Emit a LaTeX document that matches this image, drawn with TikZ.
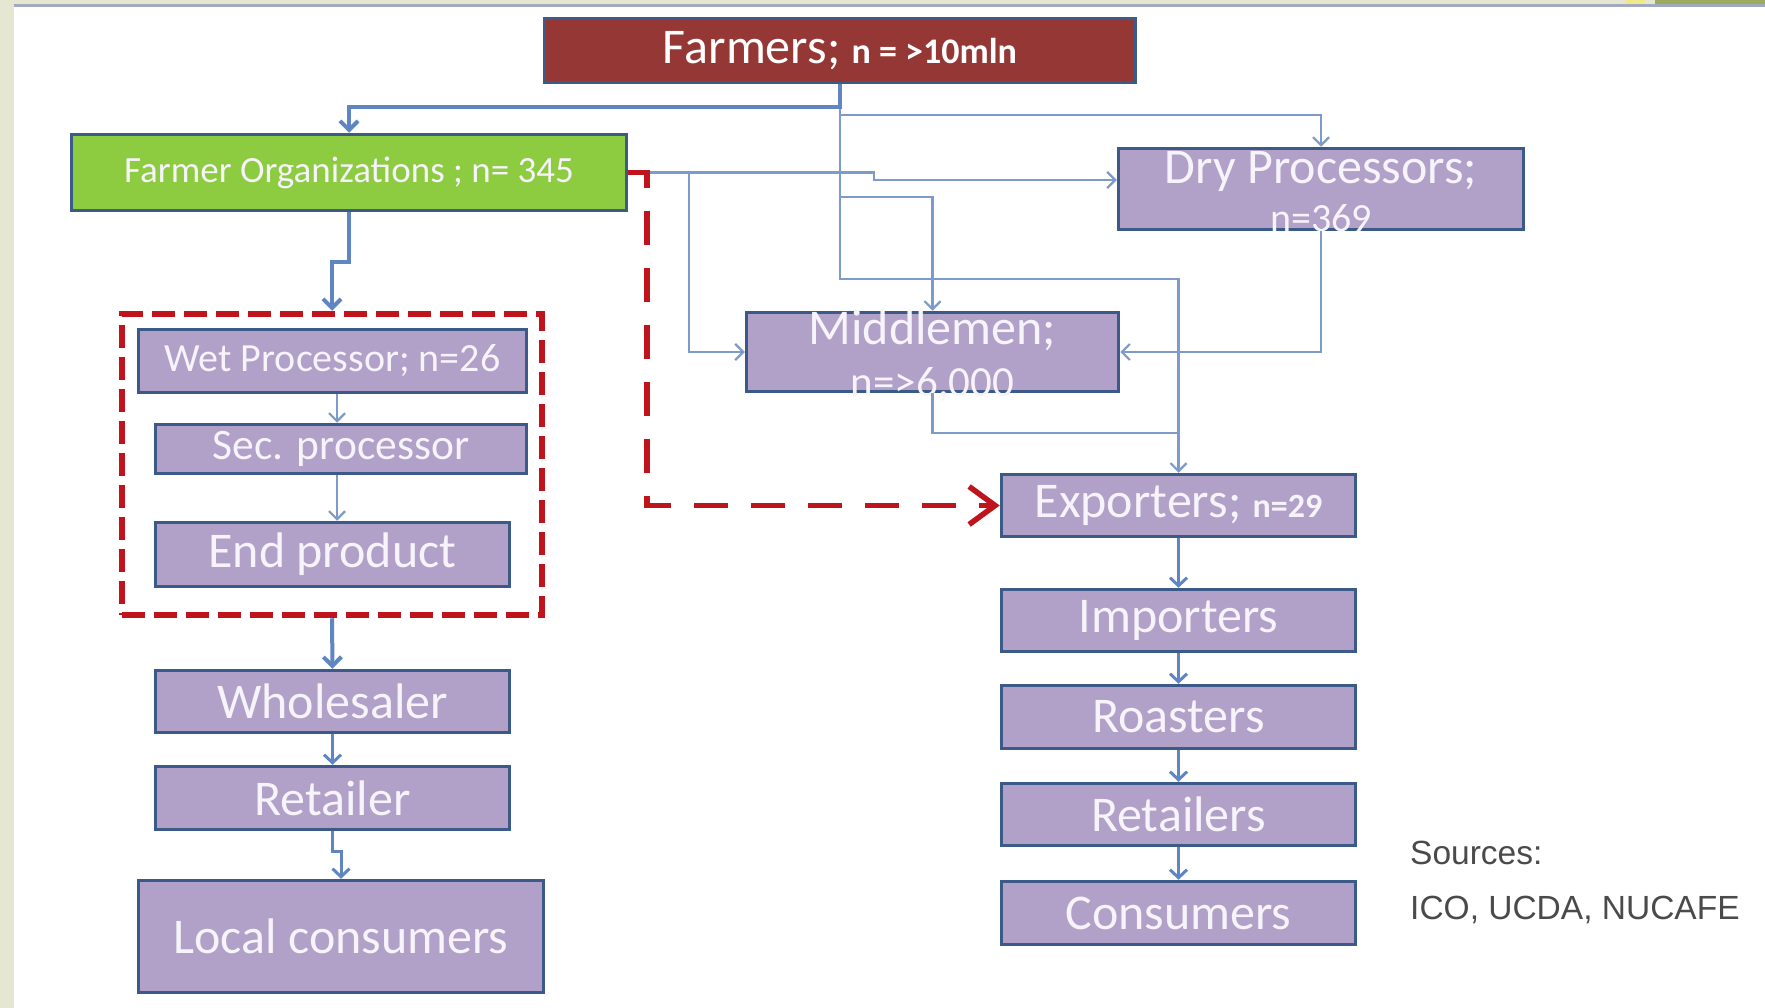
\documentclass[tikz,border=0pt]{standalone}
\usepackage{fontspec}
\setmainfont{Carlito}
\newfontfamily\srcfont{Liberation Sans}
\usetikzlibrary{arrows.meta,calc}
\definecolor{lav}{HTML}{B1A0C7}
\definecolor{bord}{HTML}{3C5A88}
\definecolor{fred}{HTML}{953735}
\definecolor{fgreen}{HTML}{8DCB41}
\definecolor{connc}{HTML}{7C9BCB}
\definecolor{connd}{HTML}{5F86C2}
\definecolor{dred}{HTML}{C0141C}
\definecolor{txtc}{HTML}{F6F3FA}
\definecolor{beige}{HTML}{E6E7D3}
\definecolor{topline}{HTML}{A2A9BE}
\definecolor{yel}{HTML}{F0E88A}
\definecolor{oliv}{HTML}{9CAA5E}
\definecolor{srcgray}{HTML}{4A4A4A}
\begin{document}
\begin{tikzpicture}[x=1pt,y=-1pt,
  box/.style={draw=bord,line width=3.5pt,fill=lav,text=txtc,inner sep=0pt,align=center,font=\fontsize{50}{52}\selectfont},
  txt/.style={text=txtc,inner sep=0pt,align=center},
  conn/.style={draw=connc,line width=2.2pt,-{Straight Barb[length=8pt,width=16pt]}},
  connthick/.style={draw=connd,line width=4pt,-{Straight Barb[length=9pt,width=18pt]}},
  connmid/.style={draw=connd,line width=3pt,-{Straight Barb[length=8pt,width=17pt]}},
  plainconn/.style={draw=connc,line width=2.2pt},
  reddash/.style={draw=dred,line width=5.5pt,dash pattern=on 34pt off 23pt,-{Straight Barb[length=26pt,width=38pt]}},
  grpbox/.style={draw=dred,line width=6.5pt,dash pattern=on 23pt off 9pt,inner sep=0pt}
]
\useasboundingbox (0,0) rectangle (1765,1008);
\fill[white] (0,0) rectangle (1765,1008);
\fill[beige] (0,0) rectangle (14,1008);
\fill[beige] (0,0) rectangle (1765,4);
\fill[topline] (14,4) rectangle (1765,7);
\fill[yel] (1625,0) rectangle (1645,4);
\fill[oliv] (1655,0) rectangle (1765,4);

% boxes
\node[box,fill=fred,text=white,minimum width=591,minimum height=64] (farmers) at (840,50.5)
  {\raisebox{-3pt}{Farmers; {\fontsize{36}{40}\bfseries\selectfont n = >10mln}}};
\node[box,fill=fgreen,minimum width=555,minimum height=76,font=\fontsize{37}{40}\selectfont] (fo) at (349,172.5)
  {Farmer Organizations ; n= 345};
\node[box,minimum width=405,minimum height=81] (dp) at (1321,189) {};
\node[txt,font=\fontsize{50}{48}\selectfont] (dpt) at (1321,192) {Dry Processors;\\{\fontsize{40}{48}\selectfont n=369}};
\node[box,minimum width=372,minimum height=79] (mid) at (932.5,352) {};
\node[txt,font=\fontsize{50}{52}\selectfont] (midt) at (932.5,356) {Middlemen;\\{\fontsize{43}{52}\selectfont n=>6,000}};
\node[box,minimum width=354,minimum height=62] (exp) at (1178.5,505.5)
  {Exporters; {\fontsize{34}{40}\bfseries\selectfont n=29}};
\node[box,minimum width=354,minimum height=62] (imp) at (1178.5,620.5) {Importers};
\node[box,minimum width=354,minimum height=63] (roa) at (1178.5,717) {Roasters};
\node[box,minimum width=354,minimum height=62] (rets) at (1178.5,814.5) {Retailers};
\node[box,minimum width=354,minimum height=63] (con) at (1178.5,913) {Consumers};

\node[grpbox,minimum width=420,minimum height=301] (grp) at (332,464.5) {};
\node[box,minimum width=388,minimum height=63,font=\fontsize{40}{44}\selectfont] (wet) at (332.5,361) {Wet Processor; n=26};
\node[box,minimum width=371,minimum height=49,font=\fontsize{43.5}{46}\selectfont] (sec) at (341,449) {Sec. processor};
\node[box,minimum width=354,minimum height=64] (endp) at (332.5,554.5) {End product};
\node[box,minimum width=354,minimum height=62] (whole) at (332.5,701.5) {Wholesaler};
\node[box,minimum width=354,minimum height=63] (retl) at (332.5,798) {Retailer};
\node[box,minimum width=405,minimum height=112] (local) at (341,936.5) {Local consumers};

\node[anchor=west,text=srcgray,inner sep=0pt,font=\srcfont\fontsize{33.5}{36}\selectfont] (src1) at (1410,853) {Sources:};
\node[anchor=west,text=srcgray,inner sep=0pt,font=\srcfont\fontsize{33.5}{36}\selectfont] (src2) at (1410,910) {ICO, UCDA, NUCAFE};

% connectors from farmers
\coordinate (rc) at (647,0);
\coordinate (j) at (1178.5,433);
\draw[conn] (farmers.south) -- ++(0,31) -| (dp.north);
\draw[conn] (farmers.south) -- ++(0,113) -| (mid.north);
\draw[conn] (farmers.south) -- ++(0,195) -| (exp.north);
\draw[connthick] (farmers.south) -- ++(0,23) -| (fo.north);
% from FO
\draw[conn] (fo.east) -- (874,172.5) -- (874,180) -- (dp.west |- 0,180);
\draw[conn] (fo.east) -| (689,352) -- (mid.west);
\draw[conn] (dp.south) |- (mid.east);
\draw[plainconn] (mid.south) |- (j);
\draw[reddash] (fo.east) -| (rc |- exp.west) -- (exp.west);
% left column
\draw[connthick] (fo.south) -- ++(0,50) -| (grp.north);
\draw[conn] ([xshift=4.5pt]wet.south) -- ([xshift=4.5pt]wet.south |- sec.north);
\draw[conn] ([xshift=4.5pt]sec.south -| wet.south) -- ([xshift=4.5pt]endp.north);
\draw[connthick] (grp.south) -- (whole.north);
\draw[connmid] (whole.south) -- (retl.north);
\draw[connmid] (retl.south) -- ++(0,20) -| (local.north);
% right column
\draw[connmid] (exp.south) -- (imp.north);
\draw[connmid] (imp.south) -- (roa.north);
\draw[connmid] (roa.south) -- (rets.north);
\draw[connmid] (rets.south) -- (con.north);
\end{tikzpicture}
\end{document}
